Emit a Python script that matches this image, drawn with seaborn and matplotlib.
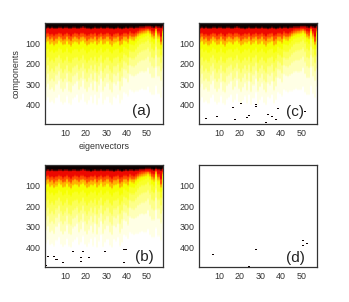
import numpy as np
import matplotlib
matplotlib.use("Agg")
import matplotlib.pyplot as plt
from matplotlib.colors import LinearSegmentedColormap
import seaborn as sns

# depth (components) where each colour band ends, one value per eigenvector
black_end = [27,24,26,23,27,28,24,23,26,25,23,26,28,24,23,26,28,23,22,25,26,28,29,26,25,28,26,25,28,26,25,26,28,29,26,25,28,29,26,25,28,23,25,26,25,23,21,21,20,19,18,18,21,23,17,21,25,18]
red_end = [55,52,60,56,64,58,50,54,62,58,52,60,66,56,52,54,60,52,50,56,64,60,54,58,52,62,56,50,60,58,52,60,66,56,54,52,62,60,50,52,58,46,52,54,48,42,37,34,33,31,29,32,42,46,27,44,68,30]
orange_end = [74,70,80,76,86,78,68,74,84,80,70,82,88,76,70,74,80,72,68,76,86,82,74,78,70,84,76,68,82,78,70,80,88,76,74,70,86,80,68,70,78,62,68,70,62,54,48,44,42,40,36,42,58,64,34,60,92,38]
amber_end = [96,90,104,98,110,102,88,96,108,104,90,106,114,100,92,96,104,94,88,98,112,106,96,100,90,108,98,88,106,102,90,104,114,98,96,90,112,104,86,90,98,78,84,86,76,66,60,56,54,50,46,54,72,78,44,74,108,48]
yellow_end = [132,126,142,134,148,138,122,130,146,140,124,144,150,136,128,130,140,130,122,134,150,142,130,136,126,146,134,122,144,138,126,140,150,134,130,126,148,140,118,122,130,106,108,110,98,86,78,74,72,66,60,72,94,102,56,96,128,62]
y2_end = [178,168,190,180,192,172,160,176,194,184,166,192,196,178,170,168,186,176,160,180,196,182,170,184,166,192,172,160,194,180,168,186,196,174,172,164,192,178,152,158,168,138,140,142,128,116,106,100,98,92,84,100,126,134,78,128,160,86]
y3_end = [222,208,236,226,240,212,198,224,242,228,206,238,244,220,212,204,232,220,198,226,242,224,208,232,204,240,214,196,240,222,208,232,244,212,214,202,238,220,190,194,206,172,176,178,166,154,144,138,136,132,122,142,168,174,116,168,196,124]
y4_end = [268,250,282,272,286,254,238,272,288,274,246,284,290,262,254,244,278,266,238,272,288,268,250,280,244,288,256,234,286,266,250,278,292,252,258,242,284,264,228,232,246,208,214,216,206,196,188,182,184,178,164,192,214,218,160,212,236,166]
y5_end = [316,296,328,318,332,300,282,320,336,322,290,332,338,306,298,286,326,312,280,320,336,314,294,330,286,336,302,274,334,312,294,326,340,294,304,284,330,310,268,274,290,252,258,262,254,248,240,236,240,236,220,250,266,268,216,262,282,222]
y6_end = [378,362,388,380,392,366,350,384,396,386,356,392,398,372,364,350,388,376,346,384,396,378,358,392,350,398,368,340,396,376,360,390,400,360,370,350,392,374,338,344,358,326,332,338,334,332,326,322,328,326,312,338,350,352,306,346,366,312]

band_ends = [black_end, red_end, orange_end, amber_end, yellow_end, y2_end, y3_end, y4_end, y5_end, y6_end]
band_colors = ["#ffffff", "#ffffe4", "#feffb8", "#fdff88", "#fbff58", "#f9ff28", "#f6ff00", "#ffb400", "#ff5000", "#f00800", "#0c0000"]

# isolated dark cells (eigenvector, component)
marks_b = [(13.8,419),(19,419),(30,419),(38.5,410),(39.5,410),(42,411),(36.2,436),(1.6,445),(4.6,445),(5.7,458),(8.7,460),(8.7,473),(18,447),(17.2,452),(21.8,449),(17.2,468),(19.8,475),(38.2,473),(42,465),(1,488),(8.7,490),(26,490)]
marks_c = [(16.3,411),(17.3,416),(20.9,395),(21.7,405),(27.9,397),(27.9,408),(39,419),(1.7,444),(1.2,468),(3.5,466),(6.7,445),(9,457),(17.6,445),(18,471),(19.6,468),(25,450),(23.8,460),(26,463),(34,449),(36,457),(38,473),(32.8,486),(51.8,432)]
marks_d = [(6.7,434),(9,436),(10,436),(27.9,410),(14.9,489),(25,492),(32,489),(51,366),(51,392),(53,380),(47.2,484)]

x_ticks = [10, 20, 30, 40, 50]
y_ticks = [100, 200, 300, 400]
panel_labels = ["(a)", "(b)", "(c)", "(d)"]

sns.set_style("white")
plt.rcParams["font.family"] = ["Liberation Sans", "DejaVu Sans"]

n_cols = 58
row_step = 3
n_rows = 165
depth = (np.arange(n_rows) + 0.5) * row_step
top_level = len(band_ends)
soften = np.array([1, 2, 2, 2, 1]) / 8


def build_matrix(bands, marks):
    mat = np.zeros((n_rows, n_cols))
    if bands:
        for j in range(n_cols):
            level = np.zeros(n_rows)
            for k, b in enumerate(bands[::-1]):
                level[depth < b[j]] = k + 1
            padded = np.concatenate([np.full(2, level[0]), level, np.zeros(2)])
            mat[:, j] = np.convolve(padded, soften, mode="valid")
    for x, y in marks:
        mat[int(y / row_step), int(x - 0.2)] = top_level
    return mat


def make_panel(rect, mat, label, lab_x, lab_y):
    ax = fig.add_axes([rect[0] / 349, 1 - rect[3] / 302, (rect[1] - rect[0]) / 349, (rect[3] - rect[2]) / 302])
    cmap = LinearSegmentedColormap.from_list("heat", band_colors)
    sns.heatmap(mat, ax=ax, cmap=cmap, vmin=0, vmax=top_level, cbar=False,
                xticklabels=False, yticklabels=False, rasterized=True)
    ax.set_xlim(0, 57.55)
    ax.set_ylim(n_rows, 0)
    for s in ax.spines.values():
        s.set_visible(True)
        s.set_color("#333333")
        s.set_linewidth(0.9)
    ax.set_xticks([v - 0.15 for v in x_ticks])
    ax.set_xticklabels(x_ticks)
    ax.set_yticks([v / row_step for v in y_ticks])
    ax.set_yticklabels(y_ticks)
    ax.tick_params(axis="both", direction="in", length=1.5, width=0.5, color="#333333",
                   labelsize=6.4, labelcolor="#333333", pad=3.5, top=True, right=True,
                   bottom=True, left=True, labelrotation=0)
    ax.text(lab_x, lab_y, label, transform=ax.transAxes, fontsize=11, color="#222222",
            ha="center", va="center")
    return ax


fig = plt.figure(figsize=(3.49, 3.02), dpi=100)
fig.patch.set_facecolor("white")

ax_a = make_panel((45.3, 162.7, 22.7, 124.3), build_matrix(band_ends, []), panel_labels[0], 0.82, 0.13)
ax_b = make_panel((45.3, 162.7, 165, 267), build_matrix(band_ends, marks_b), panel_labels[1], 0.84, 0.10)
ax_c = make_panel((199.3, 317, 22.7, 124.3), build_matrix(band_ends, marks_c), panel_labels[2], 0.81, 0.12)
ax_d = make_panel((199.3, 317, 165, 267), build_matrix([], marks_d), panel_labels[3], 0.82, 0.09)

ax_a.set_ylabel("components", fontsize=6.4, color="#333333", labelpad=3.5)
ax_a.set_xlabel("eigenvectors", fontsize=6.4, color="#333333", labelpad=2.5)

fig.savefig("out.png", dpi=100)
